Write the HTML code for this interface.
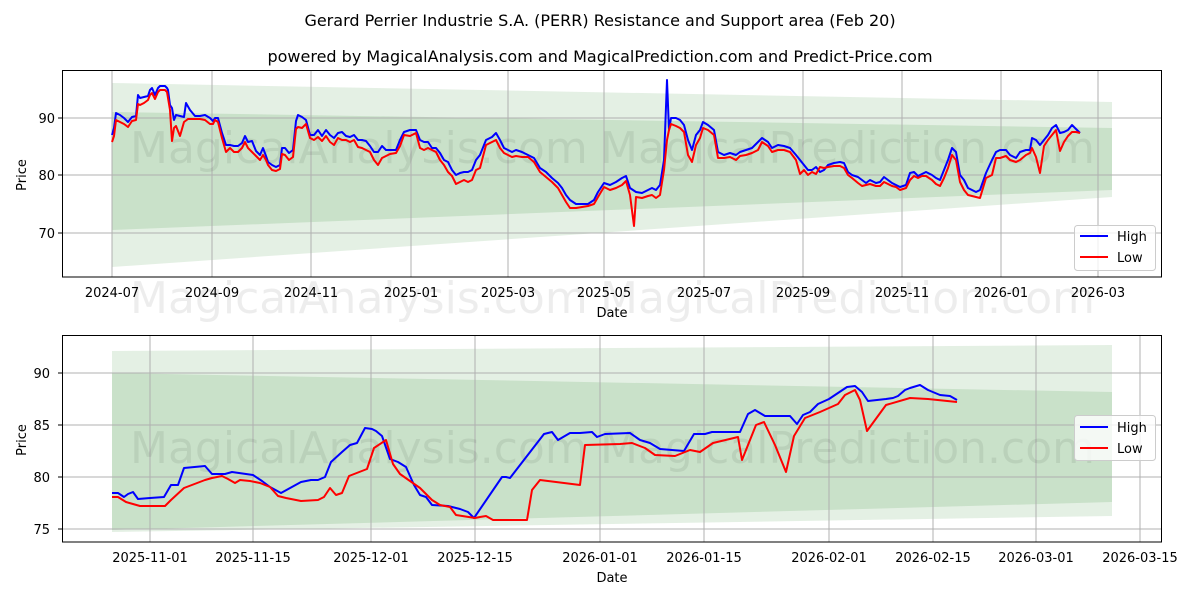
<!DOCTYPE html>
<html><head><meta charset="utf-8"><style>body{margin:0;background:#fff}svg{display:block}text{font-family:"DejaVu Sans","Liberation Sans",sans-serif}</style></head><body>
<svg width="1200" height="600" viewBox="0 0 1200 600" xmlns="http://www.w3.org/2000/svg">
<rect width="1200" height="600" fill="#fff"/>
<text x="600" y="26" font-size="16" text-anchor="middle">Gerard Perrier Industrie S.A. (PERR) Resistance and Support area (Feb 20)</text>
<text x="600" y="62" font-size="16" text-anchor="middle">powered by MagicalAnalysis.com and MagicalPrediction.com and Predict-Price.com</text>

<!-- TOP CHART -->
<polygon points="112,83 1112,102 1112,197 112,267" fill="#2e8b2e" fill-opacity="0.13"/>
<polygon points="112,112 1112,128 1112,190 112,230" fill="#2e8b2e" fill-opacity="0.15"/>
<g stroke="#b0b0b0" stroke-width="1">
<line x1="112" y1="70" x2="112" y2="277"/><line x1="212" y1="70" x2="212" y2="277"/><line x1="311" y1="70" x2="311" y2="277"/><line x1="411" y1="70" x2="411" y2="277"/><line x1="508" y1="70" x2="508" y2="277"/><line x1="604" y1="70" x2="604" y2="277"/><line x1="704" y1="70" x2="704" y2="277"/><line x1="803" y1="70" x2="803" y2="277"/><line x1="902" y1="70" x2="902" y2="277"/><line x1="1001" y1="70" x2="1001" y2="277"/><line x1="1098" y1="70" x2="1098" y2="277"/>
<line x1="62" y1="118" x2="1162" y2="118"/><line x1="62" y1="175" x2="1162" y2="175"/><line x1="62" y1="233" x2="1162" y2="233"/>
</g>
<text x="130" y="163" font-size="44" fill="#000" fill-opacity="0.07">MagicalAnalysis.com</text>
<text x="600" y="163" font-size="44" fill="#000" fill-opacity="0.07">MagicalPrediction.com</text>
<polyline fill="none" stroke="#0000ff" stroke-width="2" stroke-linejoin="round" points="112,135 114,128 116,113 120,115 124,118 128,122 132,117 136,116 138,95 140,98 144,97 148,96 150,90 152,88 155,95 158,88 160,86 165,86 167,88 168,90 170,105 172,108 174,120 176,115 180,116 184,117 186,103 190,110 195,116 200,116 205,115 210,118 213,121 215,118 218,118 222,133 226,145 230,145 234,146 238,146 242,143 245,136 248,142 252,141 256,151 260,155 263,148 266,156 268,162 272,165 276,167 280,165 282,148 285,148 289,153 293,150 296,121 298,115 302,117 306,120 310,135 314,135 318,130 322,136 326,130 330,135 334,138 338,133 342,132 346,136 350,137 354,135 358,140 362,140 366,141 370,146 374,152 378,152 382,146 386,150 390,150 396,150 400,140 404,132 410,130 416,130 420,140 424,142 428,142 432,148 436,148 440,153 444,160 448,162 452,170 456,175 460,173 464,172 468,172 472,170 476,160 480,155 486,140 492,137 496,133 500,140 504,148 508,150 512,152 516,150 522,152 528,155 534,158 540,168 546,172 552,178 558,183 562,188 566,195 570,200 576,204 582,204 588,204 594,200 598,192 604,183 610,185 616,182 622,178 626,176 630,188 636,192 642,193 648,190 652,188 656,190 660,185 664,160 667,80 669,130 671,118 676,118 680,120 684,125 688,140 692,150 696,135 700,130 703,122 708,125 714,130 718,152 724,155 730,153 736,155 740,152 746,150 752,148 758,142 762,138 768,142 772,148 778,145 784,146 790,148 796,155 800,160 804,165 808,170 812,170 816,167 820,172 824,170 828,165 834,163 840,162 844,163 848,172 852,175 858,177 862,180 866,183 870,180 876,183 880,182 884,177 888,180 892,183 896,185 900,187 906,185 910,173 914,172 918,176 922,174 926,172 932,175 936,178 940,180 944,170 948,160 952,148 956,152 960,175 964,180 968,188 972,190 976,192 980,190 986,173 992,160 996,152 1000,150 1006,150 1010,155 1016,158 1020,152 1026,150 1030,150 1032,138 1036,140 1040,145 1044,140 1048,135 1052,128 1056,125 1060,133 1064,132 1068,130 1072,125 1076,129 1080,133"/>
<polyline fill="none" stroke="#ff0000" stroke-width="2" stroke-linejoin="round" points="112,142 114,136 116,120 120,122 124,124 128,127 132,121 136,120 138,104 140,105 144,103 148,100 150,95 152,93 155,99 158,92 160,90 165,90 167,92 168,98 170,110 172,141 174,128 176,126 180,136 184,122 188,119 195,119 200,119 205,120 210,124 213,124 215,120 218,122 222,138 226,152 230,148 234,152 238,152 242,148 245,142 248,148 252,152 256,156 260,160 263,155 266,160 268,165 272,170 276,171 280,169 282,154 285,155 289,160 293,157 296,129 298,127 302,128 306,124 310,138 314,140 318,137 322,141 326,136 330,142 334,145 338,138 342,140 346,140 350,142 354,140 358,147 362,148 366,150 370,152 374,160 378,165 382,158 386,156 390,154 396,153 400,146 404,135 410,136 416,133 420,148 424,150 428,148 432,150 436,152 440,160 444,165 448,172 452,176 456,184 460,182 464,180 468,182 472,180 476,170 480,168 486,145 492,142 496,140 500,148 504,153 508,155 512,157 516,156 522,157 528,157 534,162 540,172 546,177 552,182 558,188 562,195 566,202 570,208 576,208 582,207 588,206 594,204 598,197 604,187 610,190 616,188 622,185 626,181 630,195 634,226 636,197 642,198 648,196 652,195 656,198 660,195 664,170 667,140 669,130 671,124 676,126 680,128 684,132 688,155 692,162 696,145 700,138 703,128 708,130 714,135 718,158 724,158 730,157 736,160 740,156 746,155 752,153 758,150 762,142 768,146 772,152 778,150 784,150 790,152 796,160 800,174 804,170 808,175 812,172 816,174 820,167 824,168 828,167 834,166 840,166 844,168 848,175 852,178 858,183 862,186 866,185 870,184 876,186 880,186 884,182 888,184 892,186 896,187 900,190 906,188 910,180 914,176 918,178 922,176 926,176 932,180 936,184 940,186 944,178 948,168 952,155 956,160 960,182 964,190 968,195 972,196 976,197 980,198 986,178 992,175 996,158 1000,158 1006,156 1010,160 1016,162 1020,160 1026,155 1030,153 1032,148 1036,157 1040,173 1044,146 1048,140 1052,135 1056,130 1060,151 1064,142 1068,136 1072,132 1076,132 1080,133"/>
<rect x="62.5" y="70.5" width="1099" height="206.5" fill="none" stroke="#000" stroke-width="1"/>
<g font-size="13" fill="#000">
<text x="55" y="123" text-anchor="end">90</text><text x="55" y="180" text-anchor="end">80</text><text x="55" y="238" text-anchor="end">70</text>
<g text-anchor="middle">
<text x="112" y="297">2024-07</text><text x="212" y="297">2024-09</text><text x="311" y="297">2024-11</text><text x="411" y="297">2025-01</text><text x="508" y="297">2025-03</text><text x="604" y="297">2025-05</text><text x="704" y="297">2025-07</text><text x="803" y="297">2025-09</text><text x="902" y="297">2025-11</text><text x="1001" y="297">2026-01</text><text x="1098" y="297">2026-03</text>
<text x="612" y="317">Date</text>
</g>
<text x="26" y="175" text-anchor="middle" transform="rotate(-90 26 175)">Price</text>
</g>
<g stroke="#000" stroke-width="1">
<line x1="58" y1="118" x2="62" y2="118"/><line x1="58" y1="175" x2="62" y2="175"/><line x1="58" y1="233" x2="62" y2="233"/>
</g>
<text x="130" y="313" font-size="44" fill="#000" fill-opacity="0.07">MagicalAnalysis.com</text>
<text x="600" y="313" font-size="44" fill="#000" fill-opacity="0.07">MagicalPrediction.com</text>
<rect x="1074.5" y="225.5" width="81" height="45" rx="3" fill="#fff" fill-opacity="0.8" stroke="#ccc"/>
<line x1="1080" y1="236" x2="1108" y2="236" stroke="#0000ff" stroke-width="2"/>
<line x1="1080" y1="257" x2="1108" y2="257" stroke="#ff0000" stroke-width="2"/>
<text x="1117" y="241" font-size="13">High</text><text x="1117" y="262" font-size="13">Low</text>

<!-- BOTTOM CHART -->
<polygon points="112,351 1112,345 1112,516 112,532" fill="#2e8b2e" fill-opacity="0.13"/>
<polygon points="112,373 1112,392 1112,502 112,530" fill="#2e8b2e" fill-opacity="0.15"/>
<g stroke="#b0b0b0" stroke-width="1">
<line x1="150" y1="335" x2="150" y2="542"/><line x1="253" y1="335" x2="253" y2="542"/><line x1="371" y1="335" x2="371" y2="542"/><line x1="475" y1="335" x2="475" y2="542"/><line x1="600" y1="335" x2="600" y2="542"/><line x1="704" y1="335" x2="704" y2="542"/><line x1="829" y1="335" x2="829" y2="542"/><line x1="933" y1="335" x2="933" y2="542"/><line x1="1036" y1="335" x2="1036" y2="542"/><line x1="1140" y1="335" x2="1140" y2="542"/>
<line x1="62" y1="373" x2="1162" y2="373"/><line x1="62" y1="425" x2="1162" y2="425"/><line x1="62" y1="477" x2="1162" y2="477"/><line x1="62" y1="529" x2="1162" y2="529"/>
</g>
<text x="130" y="463" font-size="44" fill="#000" fill-opacity="0.07">MagicalAnalysis.com</text>
<text x="600" y="463" font-size="44" fill="#000" fill-opacity="0.07">MagicalPrediction.com</text>
<polyline fill="none" stroke="#0000ff" stroke-width="2" stroke-linejoin="round" points="112,493 118,493 124,497 128,494 133,492 138,499 150,498 164,497 171,485 178,485 184,468 205,466 212,474 225,474 232,472 253,475 262,481 270,487 281,493 301,482 311,480 318,480 325,477 331,462 342,452 350,445 357,443 365,428 372,429 376,431 382,436 390,459 398,462 406,467 414,485 420,495 426,497 432,505 448,506 460,509 468,512 474,518 502,477 506,477 510,478 544,434 552,432 558,440 570,433 580,433 592,432 597,437 605,434 630,433 640,440 650,443 660,449 684,451 694,434 705,434 712,432 740,432 748,414 755,410 765,416 790,416 797,424 803,415 810,412 818,404 829,399 838,393 847,387 855,386 862,392 868,401 886,399 893,398 898,396 905,390 910,388 920,385 928,390 940,395 950,396 957,400"/>
<polyline fill="none" stroke="#ff0000" stroke-width="2" stroke-linejoin="round" points="112,497 118,497 126,502 140,506 165,506 171,500 184,488 205,480 212,478 222,476 228,479 235,483 240,480 250,481 260,483 270,487 278,496 286,498 301,501 318,500 324,497 330,488 336,495 342,493 349,476 367,469 374,448 386,440 393,464 400,474 420,488 432,500 440,505 450,507 456,515 475,518 480,517 486,516 493,520 527,520 532,490 540,480 580,485 585,445 620,444 632,443 645,448 655,455 675,456 690,450 700,452 713,443 738,437 742,460 756,425 764,422 775,445 786,472 794,436 805,418 820,412 838,404 845,395 855,390 860,400 867,431 886,405 910,398 928,399 957,402"/>
<rect x="62.5" y="335.5" width="1099" height="206.5" fill="none" stroke="#000" stroke-width="1"/>
<g font-size="13" fill="#000">
<text x="50" y="378" text-anchor="end">90</text><text x="50" y="430" text-anchor="end">85</text><text x="50" y="482" text-anchor="end">80</text><text x="50" y="534" text-anchor="end">75</text>
<g text-anchor="middle">
<text x="150" y="562">2025-11-01</text><text x="253" y="562">2025-11-15</text><text x="371" y="562">2025-12-01</text><text x="475" y="562">2025-12-15</text><text x="600" y="562">2026-01-01</text><text x="704" y="562">2026-01-15</text><text x="829" y="562">2026-02-01</text><text x="933" y="562">2026-02-15</text><text x="1036" y="562">2026-03-01</text><text x="1140" y="562">2026-03-15</text>
<text x="612" y="582">Date</text>
</g>
<text x="26" y="440" text-anchor="middle" transform="rotate(-90 26 440)">Price</text>
</g>
<g stroke="#000" stroke-width="1">
<line x1="58" y1="373" x2="62" y2="373"/><line x1="58" y1="425" x2="62" y2="425"/><line x1="58" y1="477" x2="62" y2="477"/><line x1="58" y1="529" x2="62" y2="529"/>
</g>
<rect x="1074.5" y="415.5" width="81" height="45" rx="3" fill="#fff" fill-opacity="0.8" stroke="#ccc"/>
<line x1="1080" y1="427" x2="1108" y2="427" stroke="#0000ff" stroke-width="2"/>
<line x1="1080" y1="448" x2="1108" y2="448" stroke="#ff0000" stroke-width="2"/>
<text x="1117" y="432" font-size="13">High</text><text x="1117" y="453" font-size="13">Low</text>
</svg>
</body></html>
